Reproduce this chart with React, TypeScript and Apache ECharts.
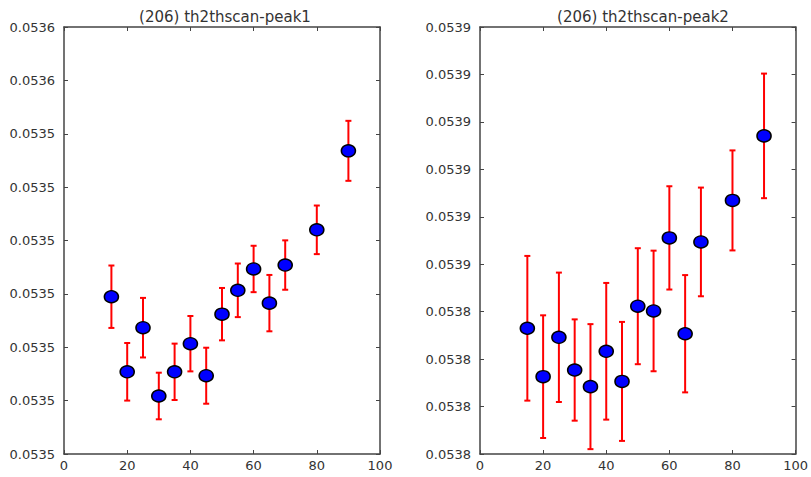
import React, { useEffect, useRef } from "react";
import * as echarts from "echarts";

// ---- data ----
const xValues = [15, 20, 25, 30, 35, 40, 45, 50, 55, 60, 65, 70, 80, 90];

const peak1Values = [
  0.0535042, 0.0534831, 0.0534955, 0.0534763, 0.0534831, 0.053491, 0.053482,
  0.0534993, 0.053506, 0.053512, 0.0535024, 0.0535131, 0.053523, 0.0535452,
];
const peak1Errors = [
  8.77e-6, 8.09e-6, 8.37e-6, 6.55e-6, 7.92e-6, 7.78e-6, 7.87e-6, 7.36e-6,
  7.53e-6, 6.52e-6, 7.92e-6, 6.94e-6, 6.83e-6, 8.43e-6,
];

const peak2Values = [
  0.053813, 0.0537926, 0.0538092, 0.0537954, 0.0537884, 0.0538033, 0.0537906,
  0.0538223, 0.0538203, 0.0538511, 0.0538107, 0.0538494, 0.0538669, 0.0538941,
];
const peak2Errors = [
  3.05e-5, 2.586e-5, 2.727e-5, 2.135e-5, 2.635e-5, 2.881e-5, 2.508e-5,
  2.445e-5, 2.542e-5, 2.177e-5, 2.472e-5, 2.291e-5, 2.108e-5, 2.626e-5,
];

// tick labels (bottom to top), as printed on the figure
const leftYTickLabels = [
  "0.0535", "0.0535", "0.0535", "0.0535", "0.0535", "0.0535", "0.0535",
  "0.0536", "0.0536",
];
const rightYTickLabels = [
  "0.0538", "0.0538", "0.0538", "0.0538", "0.0539", "0.0539", "0.0539",
  "0.0539", "0.0539", "0.0539",
];
const xTickLabels = ["0", "20", "40", "60", "80", "100"];

const titles = ["(206) th2thscan-peak1", "(206) th2thscan-peak2"];

// axis scales (in units of 1e-6)
const SCALE = 1e6;
const leftAxis = { min: 53460, max: 53580, interval: 15 };
const rightAxis = { min: 53760, max: 53940, interval: 20 };

const FONT = "DejaVu Sans";
const TEXT = "#333333";
const FRAME = "#444444";

export default function App() {
  const ref = useRef<HTMLDivElement>(null);

  useEffect(() => {
    if (!ref.current) return;
    const chart = echarts.init(ref.current, undefined, { renderer: "svg" });

    const grids = [
      { left: 64, top: 27, width: 316, height: 427 },
      { left: 480, top: 27, width: 317, height: 427 },
    ];

    const makeX = (gi: number, pos: "bottom" | "top") => ({
      type: "value",
      gridIndex: gi,
      position: pos,
      min: 0,
      max: 100,
      interval: 20,
      axisLine: { show: true, onZero: false, lineStyle: { color: FRAME, width: 1.5 } },
      axisTick: { show: true, inside: true, length: 4, lineStyle: { color: FRAME, width: 1 } },
      axisLabel: {
        show: pos === "bottom",
        margin: 5,
        color: TEXT,
        fontFamily: FONT,
        fontSize: 13,
        formatter: (v: number) => xTickLabels[Math.round(v / 20)] ?? "",
      },
      splitLine: { show: false },
    });

    const makeY = (
      gi: number,
      pos: "left" | "right",
      ax: { min: number; max: number; interval: number },
      labels: string[]
    ) => ({
      type: "value",
      gridIndex: gi,
      position: pos,
      min: ax.min,
      max: ax.max,
      interval: ax.interval,
      axisLine: { show: true, onZero: false, lineStyle: { color: FRAME, width: 1.5 } },
      axisTick: { show: true, inside: true, length: 4, lineStyle: { color: FRAME, width: 1 } },
      axisLabel: {
        show: pos === "left",
        margin: 9,
        color: TEXT,
        fontFamily: FONT,
        fontSize: 13,
        formatter: (v: number) =>
          labels[Math.round((v - ax.min) / ax.interval)] ?? "",
      },
      splitLine: { show: false },
    });

    const errData = (vals: number[], errs: number[]) =>
      xValues.map((x, i) => [x, (vals[i] - errs[i]) * SCALE, (vals[i] + errs[i]) * SCALE]);
    const ptData = (vals: number[]) => xValues.map((x, i) => [x, vals[i] * SCALE]);

    const renderErr = (params: any, api: any) => {
      const x = api.value(0);
      const lo = api.coord([x, api.value(1)]);
      const hi = api.coord([x, api.value(2)]);
      const hw = 3;
      const style = { stroke: "#ff0000", lineWidth: 2 };
      return {
        type: "group",
        children: [
          { type: "line", shape: { x1: lo[0], y1: lo[1], x2: hi[0], y2: hi[1] }, style },
          { type: "line", shape: { x1: lo[0] - hw, y1: lo[1], x2: lo[0] + hw, y2: lo[1] }, style },
          { type: "line", shape: { x1: hi[0] - hw, y1: hi[1], x2: hi[0] + hw, y2: hi[1] }, style },
        ],
      };
    };

    const scatterStyle = {
      type: "scatter",
      symbol: "circle",
      symbolSize: [14, 12],
      itemStyle: { color: "#0000ff", borderColor: "#000000", borderWidth: 1.5, opacity: 1 },
      z: 5,
    };

    const titleStyle = { color: TEXT, fontFamily: FONT, fontSize: 15, fontWeight: "normal" };

    chart.setOption({
      animation: false,
      backgroundColor: "#ffffff",
      title: [
        { text: titles[0], left: 220, top: 4, textAlign: "center", textStyle: titleStyle },
        { text: titles[1], left: 638, top: 4, textAlign: "center", textStyle: titleStyle },
      ],
      grid: grids,
      xAxis: [makeX(0, "bottom"), makeX(0, "top"), makeX(1, "bottom"), makeX(1, "top")],
      yAxis: [
        makeY(0, "left", leftAxis, leftYTickLabels),
        makeY(0, "right", leftAxis, leftYTickLabels),
        makeY(1, "left", rightAxis, rightYTickLabels),
        makeY(1, "right", rightAxis, rightYTickLabels),
      ],
      series: [
        {
          type: "custom",
          xAxisIndex: 0,
          yAxisIndex: 0,
          renderItem: renderErr,
          encode: { x: 0, y: [1, 2] },
          data: errData(peak1Values, peak1Errors),
          z: 3,
        },
        { ...scatterStyle, xAxisIndex: 0, yAxisIndex: 0, data: ptData(peak1Values) },
        {
          type: "custom",
          xAxisIndex: 2,
          yAxisIndex: 2,
          renderItem: renderErr,
          encode: { x: 0, y: [1, 2] },
          data: errData(peak2Values, peak2Errors),
          z: 3,
        },
        { ...scatterStyle, xAxisIndex: 2, yAxisIndex: 2, data: ptData(peak2Values) },
      ],
    });

    return () => chart.dispose();
  }, []);

  return (
    <div
      ref={ref}
      style={{
        position: "fixed",
        left: 0,
        top: 0,
        width: 811,
        height: 477,
        background: "#ffffff",
      }}
    />
  );
}
